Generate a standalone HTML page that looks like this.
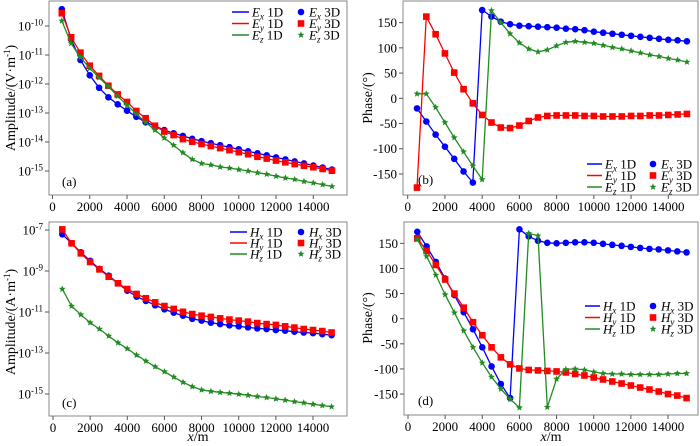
<!DOCTYPE html>
<html><head><meta charset="utf-8"><style>
html,body{margin:0;padding:0;background:#fff;}
svg{display:block;font-family:"Liberation Serif",serif;}
</style></head><body>
<svg id="chart" width="700" height="446" viewBox="0 0 700 446" xmlns="http://www.w3.org/2000/svg"></svg>
<script>
const xs=[500,1000,1500,2000,2500,3000,3500,4000,4500,5000,5500,6000,6500,7000,7500,8000,8500,9000,9500,10000,10500,11000,11500,12000,12500,13000,13500,14000,14500,15000];
const xTicks=[0,2000,4000,6000,8000,10000,12000,14000];
// panel a: log10 amplitude
const aEx=[-9.42,-10.46,-11.17,-11.7,-12.13,-12.46,-12.7,-12.92,-13.13,-13.32,-13.45,-13.59,-13.7,-13.79,-13.89,-13.97,-14.04,-14.11,-14.18,-14.25,-14.32,-14.39,-14.46,-14.53,-14.6,-14.67,-14.74,-14.81,-14.88,-14.95];
const aEy=[-9.56,-10.39,-10.92,-11.37,-11.72,-12.06,-12.36,-12.62,-12.93,-13.18,-13.44,-13.64,-13.76,-13.9,-13.99,-14.07,-14.14,-14.21,-14.28,-14.35,-14.42,-14.51,-14.57,-14.64,-14.7,-14.76,-14.82,-14.87,-14.93,-14.99];
const aEz=[-9.82,-10.6,-11.08,-11.46,-11.78,-12.09,-12.42,-12.73,-13.03,-13.32,-13.59,-13.86,-14.11,-14.37,-14.6,-14.74,-14.79,-14.86,-14.9,-14.95,-15.0,-15.06,-15.11,-15.18,-15.24,-15.29,-15.36,-15.41,-15.47,-15.53];
const aTicks=[-10,-11,-12,-13,-14,-15];
// panel b: phase
const bEx=[-20,-46,-72,-96,-120,-145,-167,175,162,152,147,144,143,142,141,140,138,137,135,132,130,128,126,124,122,120,118,116,115,113];
const bEy=[-177,162,127,89,51,18,-10,-33,-48,-58,-59,-54,-45,-38,-35,-34,-34,-34,-35,-35,-36,-36,-36,-35,-35,-34,-34,-33,-32,-31];
const bEz=[9,9,-18,-48,-78,-106,-134,-161,174,150,128,110,98,92,96,104,111,113,111,109,105,101,98,94,90,86,83,79,76,72];
const phaseTicks=[150,100,50,0,-50,-100,-150];
// panel c: log10 amplitude
const cHx=[-7.21,-7.65,-8.09,-8.5,-8.9,-9.23,-9.6,-9.96,-10.25,-10.46,-10.67,-10.87,-11.03,-11.18,-11.33,-11.42,-11.52,-11.59,-11.65,-11.7,-11.75,-11.8,-11.83,-11.88,-11.91,-11.96,-12.0,-12.03,-12.08,-12.13];
const cHy=[-6.97,-7.65,-8.14,-8.56,-8.92,-9.28,-9.6,-9.88,-10.12,-10.33,-10.53,-10.71,-10.85,-10.99,-11.1,-11.18,-11.24,-11.31,-11.37,-11.42,-11.47,-11.54,-11.59,-11.63,-11.7,-11.76,-11.83,-11.88,-11.93,-12.0];
const cHz=[-9.88,-10.71,-11.13,-11.52,-11.83,-12.17,-12.5,-12.79,-13.1,-13.39,-13.67,-13.91,-14.17,-14.43,-14.64,-14.8,-14.87,-14.92,-14.96,-15.01,-15.06,-15.12,-15.17,-15.24,-15.3,-15.37,-15.43,-15.5,-15.56,-15.62];
const cTicks=[-7,-9,-11,-13,-15];
// panel d: phase
const dHx=[173,144,113,80,47,13,-21,-57,-95,-130,-158,178,164,155,151,150,151,152,152,151,149,147,145,143,141,139,138,136,134,132];
const dHy=[160,135,107,78,50,22,-7,-33,-57,-77,-91,-99,-102,-103,-104,-105,-107,-110,-113,-117,-121,-125,-129,-133,-137,-141,-145,-150,-153,-158];
const dHz=[158,124,87,48,12,-24,-57,-88,-116,-140,-160,-177,170,165,-176,-120,-101,-100,-102,-106,-109,-110,-110,-111,-111,-111,-111,-110,-109,-109];

const NS="http://www.w3.org/2000/svg";
const svg=document.getElementById('chart');
function mk(tag,attrs,parent){const e=document.createElementNS(NS,tag);for(const k in attrs)e.setAttribute(k,attrs[k]);(parent||svg).appendChild(e);return e;}
const COL={x:'#0000ff',y:'#ff0000',z:'#228b22'};

function star(cx,cy,r){let p=[];for(let i=0;i<10;i++){const a=-Math.PI/2+i*Math.PI/5;const rr=i%2?r*0.45:r;p.push((cx+rr*Math.cos(a)).toFixed(1)+','+(cy+rr*Math.sin(a)).toFixed(1));}return p.join(' ');}
function marker(g,kind,cx,cy,color){
  let m;
  if(kind==='x'){m=mk('circle',{cx:cx,cy:cy,r:3.3,fill:color},g);}
  else if(kind==='y'){m=mk('rect',{x:cx-3.3,y:cy-3.3,width:6.6,height:6.6,fill:color},g);}
  else {m=mk('polygon',{points:star(cx,cy,3.6),fill:color},g);}
  return m;
}
function panel(o){
  const g=mk('g',{});
  
  
  const sx=v=>o.x0+v*(o.x14-o.x0)/14000;
  const sy=o.sy;
  const fr=mk('rect',{x:o.L,y:o.T,width:o.R-o.L,height:o.B-o.T,fill:'none',stroke:'#888',"stroke-width":1},g);
  
  
  // x ticks
  xTicks.forEach(t=>{
    const X=sx(t);
    mk('line',{x1:X,y1:o.B,x2:X,y2:o.B+4,stroke:'#555'},g);
    const tx=mk('text',{x:X,y:o.B+16,"text-anchor":"middle","font-size":13,fill:'#000'},g);
    tx.textContent=t;
    
    
  });
  // y ticks
  o.yticks.forEach(t=>{
    const Y=sy(t);
    mk('line',{x1:o.L-4,y1:Y,x2:o.L,y2:Y,stroke:'#555'},g);
    const tx=mk('text',{x:o.L-6,y:Y+4.5,"text-anchor":"end","font-size":13,fill:'#000'},g);
    
    
    if(o.log){tx.textContent='10';const s=mk('tspan',{dy:-5,"font-size":9},tx);s.textContent='-'+(-t);}
    else tx.textContent=t;
  });
  // y title
  const yt=mk('text',{x:0,y:0,transform:`translate(${o.ytX},${o.ytY}) rotate(-90)`,"text-anchor":"middle","font-size":14,fill:'#000'},g);
  
  
  yt.textContent=o.ytitle[0];
  if(o.ytitle[1]){const s=mk('tspan',{dy:-5,"font-size":9},yt);s.textContent=o.ytitle[1];const s2=mk('tspan',{dy:5},yt);s2.textContent=')';}
  // series
  o.series.forEach(s=>{
    const pts=xs.map((x,i)=>sx(x).toFixed(1)+','+sy(s.v[i]).toFixed(1)).join(' ');
    const pl=mk('polyline',{points:pts,fill:'none',stroke:COL[s.k],"stroke-width":1.3},g);
    
    
    xs.forEach((x,i)=>{
      const m=marker(g,s.k,sx(x),sy(s.v[i]),COL[s.k]);
      
      
    });
  });
  // legend
  const lg=mk('g',{},g);
  
  
  ['x','y','z'].forEach((k,i)=>{
    const Y=o.legY+i*o.legDy;
    mk('line',{x1:o.legX,y1:Y,x2:o.legX+o.legW,y2:Y,stroke:COL[k],"stroke-width":1.5},lg);
    const t=mk('text',{x:o.legX+o.legW+3,y:Y+4.5,"font-size":13,fill:'#000'},lg);
    
    
    const a=mk('tspan',{"font-style":"italic"},t);a.textContent=o.sym;
    const b=mk('tspan',{"font-style":"italic","font-size":9,dy:3},t);b.textContent=k;
    const c=mk('tspan',{dy:-3},t);c.textContent=' 1D';
    marker(lg,k,o.legM,Y,COL[k]);
    const t2=mk('text',{x:o.legM+8,y:Y+4.5,"font-size":13,fill:'#000'},lg);
    
    
    const a2=mk('tspan',{"font-style":"italic"},t2);a2.textContent=o.sym;
    const b2=mk('tspan',{"font-style":"italic","font-size":9,dy:3},t2);b2.textContent=k;
    const c2=mk('tspan',{dy:-3},t2);c2.textContent=' 3D';
  });
  const pl=mk('text',{x:o.pX,y:o.pY,"font-size":13,fill:'#000'},g);
  pl.textContent=o.plab;
  
  
  if(o.xtitle){
    const xt=mk('text',{x:(o.L+o.R)/2,y:441,"text-anchor":"middle","font-size":14,fill:'#000'},g);
    
    
    const i=mk('tspan',{"font-style":"italic"},xt);i.textContent='x';
    const m=mk('tspan',{},xt);m.textContent='/m';
  }
}
panel({name:'panel-a',L:49,R:347,T:1,B:195,x0:52.5,x14:313.3,log:true,yticks:aTicks,
  sy:v=>26+(-10-v)*29,ytX:15,ytY:98,ytitle:['Amplitude/(V·m','-1'],
  series:[{k:'x',v:aEx,lab:'ex'},{k:'y',v:aEy,lab:'ey'},{k:'z',v:aEz,lab:'ez'}],
  sym:'E',legX:232,legW:17,legY:12,legDy:11.5,legM:301,plab:'(a)',pX:62,pY:186});
panel({name:'panel-b',L:403,R:698,T:1,B:195,x0:407.7,x14:668.3,log:false,yticks:phaseTicks,
  sy:v=>98.3-v*(151.3/300),ytX:372,ytY:98,ytitle:['Phase/(°)'],
  series:[{k:'x',v:bEx,lab:'ex'},{k:'y',v:bEy,lab:'ey'},{k:'z',v:bEz,lab:'ez'}],
  sym:'E',legX:587,legW:15,legY:164,legDy:11.5,legM:653,plab:'(b)',pX:418,pY:184});
panel({name:'panel-c',L:49,R:347,T:222,B:416,x0:53,x14:313,log:true,yticks:cTicks,
  sy:v=>230+(-7-v)*20.5,ytX:15,ytY:322,ytitle:['Amplitude/(A·m','-1'],
  series:[{k:'x',v:cHx,lab:'hx'},{k:'y',v:cHy,lab:'hy'},{k:'z',v:cHz,lab:'hz'}],
  sym:'H',legX:230,legW:17,legY:232,legDy:11,legM:301,plab:'(c)',pX:62,pY:407,xtitle:true});
panel({name:'panel-d',L:404,R:698,T:222,B:415,x0:408,x14:668,log:false,yticks:phaseTicks,
  sy:v=>318.7-v*(150.7/300),ytX:372,ytY:318,ytitle:['Phase/(°)'],
  series:[{k:'x',v:dHx,lab:'hx'},{k:'y',v:dHy,lab:'hy'},{k:'z',v:dHz,lab:'hz'}],
  sym:'H',legX:585,legW:15,legY:306,legDy:11.5,legM:653,plab:'(d)',pX:418,pY:405,xtitle:true});
</script>
</body></html>
